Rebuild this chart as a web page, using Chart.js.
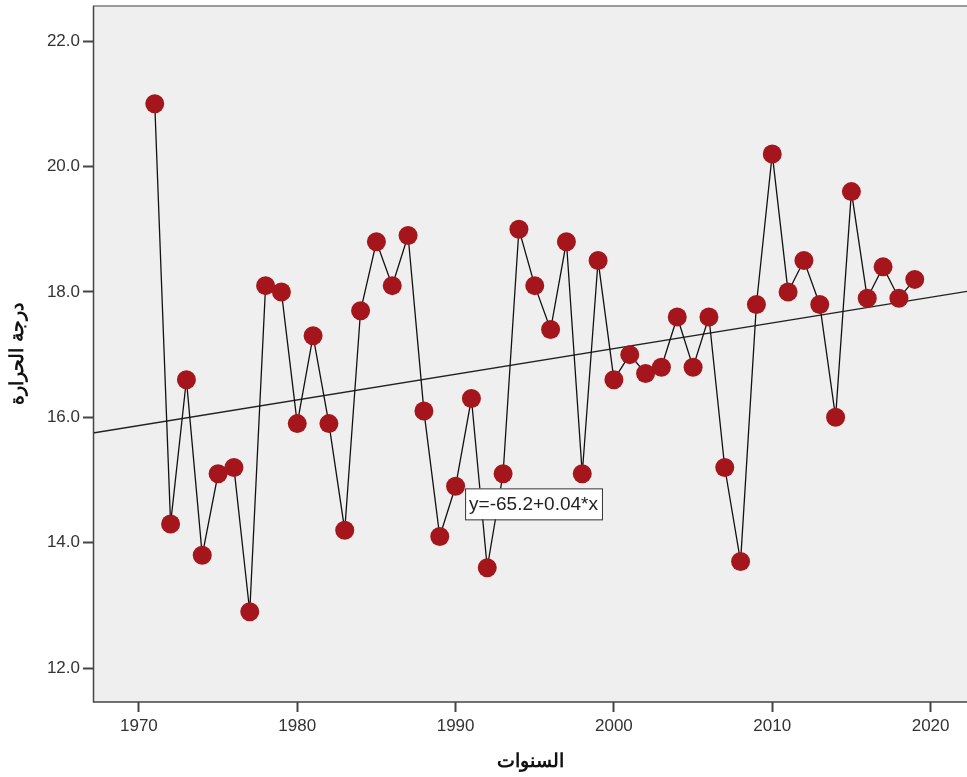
<!DOCTYPE html>
<html><head><meta charset="utf-8">
<script src="https://cdn.jsdelivr.net/npm/chart.js@4/dist/chart.umd.min.js"></script>
<style>html,body{margin:0;padding:0;background:#fff;overflow:hidden;}#wrap{width:967px;height:777px;position:relative;}</style>
</head><body><div id="wrap"><canvas id="c" width="967" height="777"></canvas></div>
<script>
const years = [1971,1972,1973,1974,1975,1976,1977,1978,1979,1980,1981,1982,1983,1984,1985,1986,1987,1988,1989,1990,1991,1992,1993,1994,1995,1996,1997,1998,1999,2000,2001,2002,2003,2004,2005,2006,2007,2008,2009,2010,2011,2012,2013,2014,2015,2016,2017,2018,2019];
const temps = [21.0,14.3,16.6,13.8,15.1,15.2,12.9,18.1,18.0,15.9,17.3,15.9,14.2,17.7,18.8,18.1,18.9,16.1,14.1,14.9,16.3,13.6,15.1,19.0,18.1,17.4,18.8,15.1,18.5,16.6,17.0,16.7,16.8,17.6,16.8,17.6,15.2,13.7,17.8,20.2,18.0,18.5,17.8,16.0,19.6,17.9,18.4,17.9,18.2];
const trendX = [1967.1, 2022.3];
const trendY = [15.75, 18.01];
const xTicks = [1970,1980,1990,2000,2010,2020];
const yTicks = [12,14,16,18,20,22];
const xTitle = 'السنوات';
const yTitle = 'درجة الحرارة';
const equationLabel = 'y=-65.2+0.04*x';
const equationAnchor = {x: 1990.6, y: 14.62};

const FONT = '"Liberation Sans", Arial, sans-serif';

const bgPlugin = {
  id: 'bg',
  beforeDatasetsDraw(chart) {
    const {ctx, chartArea: a} = chart;
    ctx.save();
    ctx.fillStyle = '#efefef';
    ctx.fillRect(a.left, a.top, a.right - a.left, a.bottom - a.top);
    ctx.restore();
  },
  afterDatasetsDraw(chart) {
    const {ctx, chartArea: a, scales} = chart;
    ctx.save();
    ctx.strokeStyle = '#9a9a9a';
    ctx.lineWidth = 2;
    ctx.beginPath(); ctx.moveTo(a.left, a.top); ctx.lineTo(a.right, a.top); ctx.stroke();
    ctx.strokeStyle = '#444';
    ctx.lineWidth = 1.5;
    ctx.beginPath(); ctx.moveTo(a.left + 0.5, a.top); ctx.lineTo(a.left + 0.5, a.bottom); ctx.lineTo(a.right, a.bottom); ctx.stroke();
    // equation label
    const px = scales.x.getPixelForValue(equationAnchor.x);
    const py = scales.y.getPixelForValue(equationAnchor.y);
    ctx.font = '19px ' + FONT;
    const w = ctx.measureText(equationLabel).width + 8;
    const h = 31;
    ctx.fillStyle = '#fff';
    ctx.fillRect(px, py - h/2, w, h);
    ctx.strokeStyle = '#333';
    ctx.lineWidth = 1;
    ctx.strokeRect(px + 0.5, py - h/2 + 0.5, w, h);
    ctx.fillStyle = '#222';
    ctx.textBaseline = 'middle';
    ctx.fillText(equationLabel, px + 4, py + 1);
    ctx.restore();
  }
};

new Chart(document.getElementById('c'), {
  type: 'scatter',
  data: {
    datasets: [
      {
        data: years.map((y, i) => ({x: y, y: temps[i]})),
        showLine: true,
        borderColor: '#111',
        borderWidth: 1.3,
        pointRadius: 9.5,
        pointHoverRadius: 9.5,
        pointBackgroundColor: '#a5161c',
        pointBorderColor: '#a5161c',
        pointBorderWidth: 0,
        order: 1
      },
      {
        data: trendX.map((x, i) => ({x, y: trendY[i]})),
        showLine: true,
        borderColor: '#222',
        borderWidth: 1.3,
        pointRadius: 0,
        order: 2
      }
    ]
  },
  options: {
    responsive: false,
    animation: false,
    events: [],
    layout: {autoPadding: false, padding: {top: 6, right: 0, left: 0, bottom: 0}},
    plugins: {legend: {display: false}, tooltip: {enabled: false}},
    scales: {
      x: {
        type: 'linear', min: 1967.1, max: 2022.3,
        afterBuildTicks(s) { s.ticks = xTicks.map(v => ({value: v})); },
        afterFit(s) { s.height = 75; s.paddingLeft = 0; s.paddingRight = 0; },
        grid: {display: true, drawOnChartArea: false, drawTicks: true, tickLength: 10, tickWidth: 2, tickColor: '#444'},
        border: {display: false},
        ticks: {font: {family: FONT, size: 17}, color: '#333', padding: 4, maxRotation: 0, callback: v => String(v)},
        title: {display: true, text: xTitle, font: {family: FONT, size: 19, weight: 'bold'}, color: '#111', padding: 4}
      },
      y: {
        type: 'linear', min: 11.46, max: 22.56,
        afterBuildTicks(s) { s.ticks = yTicks.map(v => ({value: v})); },
        afterFit(s) { s.width = 93; s.paddingTop = 0; s.paddingBottom = 0; },
        grid: {display: true, drawOnChartArea: false, drawTicks: true, tickLength: 10, tickWidth: 2, tickColor: '#444'},
        border: {display: false},
        ticks: {font: {family: FONT, size: 17}, color: '#333', padding: 3, callback: v => v.toFixed(1)},
        title: {display: true, text: yTitle, font: {family: FONT, size: 19, weight: 'bold'}, color: '#111', padding: 6}
      }
    }
  },
  plugins: [bgPlugin]
});
</script>
</body></html>
